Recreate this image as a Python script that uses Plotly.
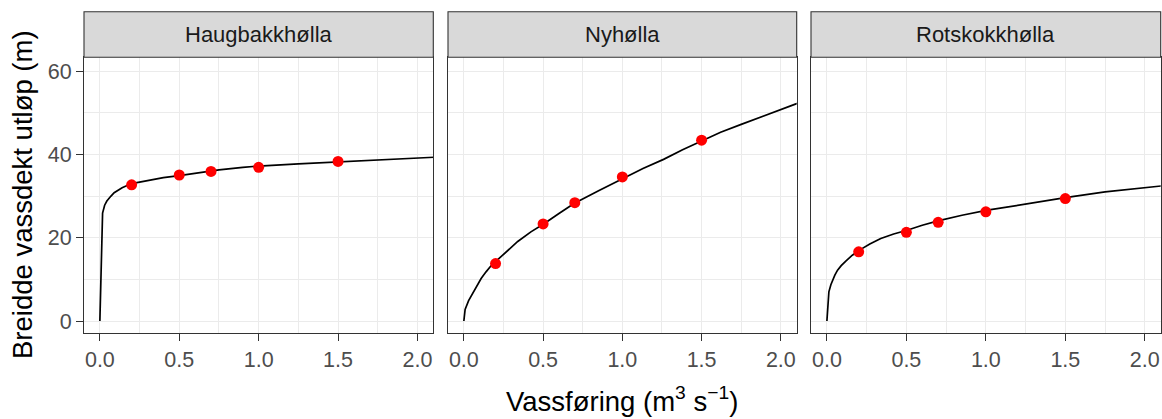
import plotly.graph_objects as go

# ---- data ----
sites = ["Haugbakkhølla", "Nyhølla", "Rotskokkhølla"]

obs_q = [0.2, 0.5, 0.7, 1.0, 1.5]
haug_obs_w = [32.7, 35.05, 35.9, 36.9, 38.3]
nyh_obs_w = [13.8, 23.3, 28.4, 34.6, 43.4]
rots_obs_w = [16.6, 21.3, 23.7, 26.2, 29.4]

haug_curve_q = [0.0, 0.017, 0.03, 0.044, 0.07, 0.09, 0.14, 0.2, 0.3, 0.4, 0.5, 0.6, 0.75, 0.9, 1.0,
                1.25, 1.5, 1.75, 2.0, 2.15]
haug_curve_w = [0.0, 25.9, 27.8, 28.8, 30.0, 30.8, 32.0, 33.0, 33.7, 34.4, 34.9, 35.5, 36.3, 36.9, 37.2,
                37.7, 38.2, 38.7, 39.05, 39.4]

nyh_curve_q = [0.0, 0.008, 0.03, 0.056, 0.08, 0.109, 0.14, 0.17, 0.21, 0.266, 0.34, 0.423, 0.508, 0.6,
               0.695, 0.85, 1.006, 1.13, 1.26, 1.38, 1.5, 1.62, 1.75, 1.87, 2.0, 2.15]
nyh_curve_w = [0.0, 2.8, 4.9, 6.6, 8.5, 10.2, 11.8, 13.2, 14.6, 16.6, 19.1, 21.4, 23.4, 25.8,
               28.2, 31.3, 34.3, 36.6, 38.8, 41.1, 43.2, 45.3, 47.2, 48.9, 50.6, 52.9]

rots_curve_q = [0.0, 0.0125, 0.025, 0.036, 0.05, 0.067, 0.09, 0.119, 0.16, 0.213, 0.27, 0.339, 0.42, 0.504,
                0.6, 0.705, 0.85, 1.01, 1.26, 1.5, 1.75, 2.0, 2.15]
rots_curve_w = [0.0, 7.0, 8.7, 9.8, 11.0, 12.2, 13.3, 14.4, 15.8, 17.2, 18.5, 19.8, 20.9, 21.8,
                23.0, 24.1, 25.4, 26.6, 28.2, 29.6, 31.0, 32.1, 32.6]

x_ticks = [0.0, 0.5, 1.0, 1.5, 2.0]
y_ticks = [0, 20, 40, 60]

curves_q = [haug_curve_q, nyh_curve_q, rots_curve_q]
curves_w = [haug_curve_w, nyh_curve_w, rots_curve_w]
obs_w = [haug_obs_w, nyh_obs_w, rots_obs_w]

# ---- layout geometry ----
W, H = 1162, 419
panels_px = [(84, 433.3), (448, 796.7), (811, 1160.7)]
top_px, bot_px = 57.3, 332.7
strip_top_px = 11.7

def px_x(v):
    return v / W

def px_y(v):
    return (H - v) / H

x_range = [-0.1, 2.1]
y_range = [-2.8, 63.3]

fig = go.Figure()
FONT = "Liberation Sans, Arial, sans-serif"
SMALL = 21.5
STRIP = 22
BIG = 27.5

for i in range(3):
    ax = "" if i == 0 else str(i + 1)
    fig.add_trace(go.Scatter(
        x=curves_q[i], y=curves_w[i], mode="lines",
        line=dict(color="black", width=1.7),
        xaxis="x" + ax, yaxis="y" + ax, showlegend=False, hoverinfo="skip"))
    fig.add_trace(go.Scatter(
        x=obs_q, y=obs_w[i], mode="markers",
        marker=dict(color="#FF0000", size=11, line=dict(width=0)),
        xaxis="x" + ax, yaxis="y" + ax, showlegend=False))

    l, r = panels_px[i]
    xa = dict(
        domain=[px_x(l), px_x(r)], range=x_range, anchor="y" + ax,
        tickvals=x_ticks, ticktext=[f"{v:.1f}" for v in x_ticks],
        ticks="outside", ticklen=7, tickwidth=1.1, tickcolor="#333333",
        tickfont=dict(family=FONT, size=SMALL, color="#4D4D4D"),
        showline=True, linecolor="#333333", linewidth=1.1, mirror=True,
        showgrid=True, gridcolor="#EBEBEB", gridwidth=1.2, zeroline=False,
        minor=dict(dtick=0.25, tick0=0, showgrid=True, gridcolor="#EBEBEB", gridwidth=0.8, ticks=""),
    )
    ya = dict(
        domain=[px_y(bot_px), px_y(top_px)], range=y_range, anchor="x" + ax,
        tickvals=y_ticks, ticktext=[str(v) for v in y_ticks],
        showline=True, linecolor="#333333", linewidth=1.1, mirror=True,
        showgrid=True, gridcolor="#EBEBEB", gridwidth=1.2, zeroline=False,
        minor=dict(dtick=10, tick0=0, showgrid=True, gridcolor="#EBEBEB", gridwidth=0.8, ticks=""),
    )
    if i == 0:
        ya.update(ticks="outside", ticklen=7, tickwidth=1.1, tickcolor="#333333",
                  tickfont=dict(family=FONT, size=SMALL, color="#4D4D4D"), showticklabels=True)
    else:
        ya.update(ticks="", showticklabels=False)
    fig.layout["xaxis" + ax] = xa
    fig.layout["yaxis" + ax] = ya

    # strip
    fig.add_shape(type="rect", xref="paper", yref="paper",
                  x0=px_x(l), x1=px_x(r), y0=px_y(top_px), y1=px_y(strip_top_px),
                  fillcolor="#D9D9D9", line=dict(color="#333333", width=1.1), layer="above")
    fig.add_annotation(xref="paper", yref="paper", x=px_x((l + r) / 2),
                       y=px_y((top_px + strip_top_px) / 2), text=sites[i], showarrow=False,
                       xanchor="center", yanchor="middle",
                       font=dict(family=FONT, size=STRIP, color="#1A1A1A"))

# axis titles
fig.add_annotation(xref="paper", yref="paper", x=px_x((panels_px[0][0] + panels_px[2][1]) / 2),
                   y=px_y(399.5), yanchor="middle", xanchor="center", showarrow=False,
                   text="Vassføring (m<sup>3</sup> s<sup>−1</sup>)",
                   font=dict(family=FONT, size=BIG, color="black"))
fig.add_annotation(xref="paper", yref="paper", x=px_x(22), y=px_y((top_px + bot_px) / 2),
                   textangle=-90, xanchor="center", yanchor="middle", showarrow=False,
                   text="Breidde vassdekt utløp (m)",
                   font=dict(family=FONT, size=BIG, color="black"))

fig.update_layout(width=W, height=H, margin=dict(l=0, r=0, t=0, b=0),
                  paper_bgcolor="white", plot_bgcolor="white", showlegend=False)

fig.write_html("out.html")
